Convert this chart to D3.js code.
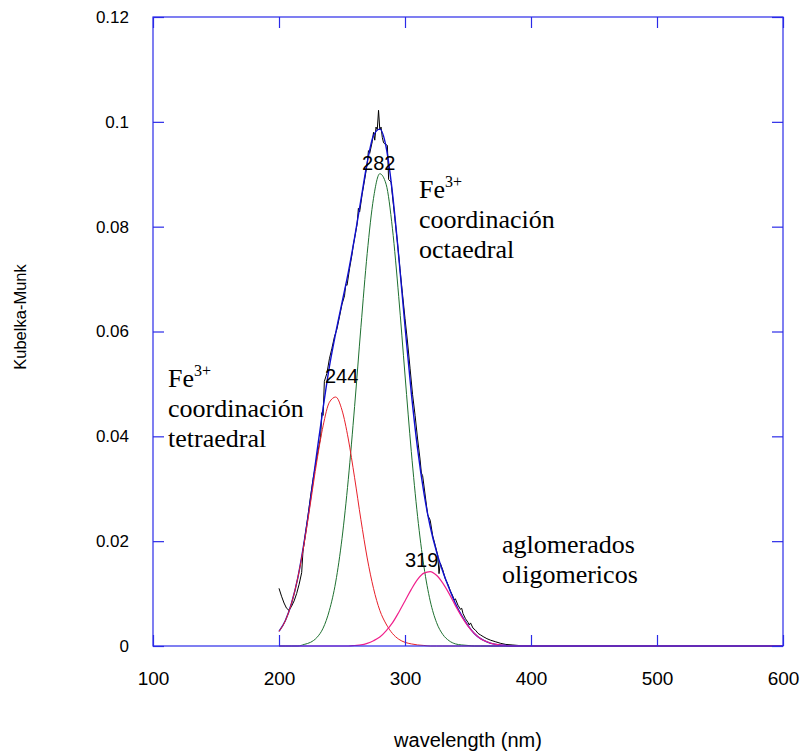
<!DOCTYPE html>
<html>
<head>
<meta charset="utf-8">
<script src="https://cdn.jsdelivr.net/npm/d3@7"></script>
<style>
  body { margin: 0; background: #fff; }
  svg { display: block; }
</style>
</head>
<body>
<div id="chart"></div>
<script>
// wavelength grid (nm) for the fitted curves
const fitWl = [200,205,210,215,220,225,230,235,240,245,250,255,260,265,270,275,280,285,290,295,300,
               305,310,315,320,325,330,335,340,345,350,355,360,365,370,375,380,385,390,400,500,600]
// Fe3+ tetraedral band (244 nm)
const red = [0.0028,0.0048,0.0082,0.0131,0.0196,0.0273,0.0352,0.0420,0.0465,0.0475,0.0450,0.0395,0.0321,0.0241,0.0168,0.0110,0.0068,0.0042,0.0024,0.0013,0.0007,
             0.0004,0.0002,0.0001,0,0,0,0,0,0,0,0,0,0,0,0,0,0,0,0,0,0]
// Fe3+ octaedral band (282 nm)
const green = [0,0,0,0,0.0003,0.0007,0.0016,0.0034,0.0068,0.0122,0.0205,0.0318,0.0457,0.0608,0.0749,0.0854,0.0901,0.0881,0.0797,0.0667,0.0517,
               0.0371,0.0247,0.0152,0.0086,0.0045,0.0022,0.0010,0.0004,0.0002,0.0001,0,0,0,0,0,0,0,0,0,0,0]
// aglomerados oligomericos (319 nm)
const pink = [0,0,0,0,0,0,0,0,0,0,0,0,0.0001,0.0002,0.0005,0.0010,0.0017,0.0029,0.0044,0.0064,0.0086,
              0.0108,0.0127,0.0139,0.0142,0.0135,0.0120,0.0100,0.0077,0.0056,0.0038,0.0024,0.0014,0.0008,0.0004,0.0002,0.0001,0,0,0,0,0]
// total fit
const blue = [0.0028,0.0048,0.0082,0.0131,0.0199,0.0280,0.0368,0.0454,0.0533,0.0597,0.0655,0.0713,0.0779,0.0851,0.0922,0.0974,0.0986,0.0952,0.0865,0.0744,0.0610,
              0.0483,0.0376,0.0292,0.0228,0.0180,0.0142,0.0110,0.0081,0.0058,0.0039,0.0024,0.0014,0.0008,0.0004,0.0002,0.0001,0,0,0,0,0]

// measured spectrum
const dataWl = [200,202,204,206,208,210,212,214,216,218,219,221,223,225,227,229,231,233,234,235,236,238,240,242,244,246,248,250,252,253,254,256,258,259,260,
                262,263,264,266,268,270,271,272,274,275,276,277,278,279,280,281,282,283,284,286,287,289,290,292,294,296,298,300,302,304,306,308,310,312,313,314,316,318,
                320,322,324,326,327,328,330,332,334,336,338,339,340,342,344,345,346,348,350,351,352,354,356,358,360,362,365,368,372,376,380,385,390,400,500,600]
const dataKM = [0.0110,0.0095,0.0082,0.0072,0.0068,0.0076,0.0086,0.0100,0.0118,0.0140,0.0180,0.0215,0.0248,0.0285,0.0318,0.0345,0.0372,0.0398,0.0445,0.0440,0.0505,0.0520,0.0548,0.0568,0.0590,0.0605,0.0628,0.0652,0.0668,0.0690,0.0688,0.0720,0.0748,0.0765,0.0778,
                0.0805,0.0835,0.0828,0.0862,0.0890,0.0920,0.0945,0.0940,0.0962,0.0980,0.0965,0.0990,0.0985,0.1022,0.0985,0.0990,0.0970,0.0960,0.0958,0.0955,0.0890,0.0885,0.0860,0.0815,0.0770,0.0720,0.0672,0.0625,0.0580,0.0530,0.0480,0.0440,0.0395,0.0355,0.0330,0.0325,0.0288,0.0250,
                0.0240,0.0210,0.0192,0.0173,0.0138,0.0158,0.0145,0.0128,0.0118,0.0105,0.0095,0.0088,0.0090,0.0078,0.0070,0.0072,0.0062,0.0052,0.0045,0.0040,0.0044,0.0034,0.0030,0.0024,0.0021,0.0018,0.0014,0.0011,0.0008,0.0005,0.0003,0.0002,0.0001,0,0,0]

const xTicks = [100,200,300,400,500,600]
const yTicks = [0,0.02,0.04,0.06,0.08,0.1,0.12]
const yTickLabels = ["0","0.02","0.04","0.06","0.08","0.1","0.12"]

// peak labels: text starts at wl, baseline at v
const peakLabels = ["244", "282", "319"]
const peakLabelWl = [236.5, 265.9, 300]
const peakLabelV = [0.0501, 0.0909, 0.0150]

width = 801
height = 753
margin = ({top: 17, right: 18, bottom: 107, left: 153})

x = d3.scaleLinear().domain([100, 600]).range([margin.left, width - margin.right])
y = d3.scaleLinear().domain([0, 0.12]).range([height - margin.bottom, margin.top])

const svg = d3.select("#chart").append("svg")
    .attr("width", width)
    .attr("height", height)
    .attr("font-family", "Arial, 'Liberation Sans', sans-serif")

const line = d3.line()
    .x(d => x(d[0]))
    .y(d => y(d[1]))
const smooth = d3.line()
    .x(d => x(d[0]))
    .y(d => y(d[1]))
    .curve(d3.curveMonotoneX)

const plot = svg.append("g").attr("fill", "none")

plot.append("path")
    .attr("d", line(d3.zip(dataWl, dataKM)))
    .attr("stroke", "#000").attr("stroke-width", 1)
plot.append("path")
    .attr("d", smooth(d3.zip(fitWl, blue)))
    .attr("stroke", "#1010d0").attr("stroke-width", 1.4)
plot.append("path")
    .attr("d", smooth(d3.zip(fitWl, green)))
    .attr("stroke", "#1e7030").attr("stroke-width", 1)
plot.append("path")
    .attr("d", smooth(d3.zip(fitWl, red)))
    .attr("stroke", "#e8202a").attr("stroke-width", 1)
plot.append("path")
    .attr("d", smooth(d3.zip(fitWl, pink)))
    .attr("stroke", "#f0208c").attr("stroke-width", 1.2)

// frame with inward ticks on all four sides
const axisColor = "#2a2ae8"
const x0 = x.range()[0], x1 = x.range()[1], y0 = y.range()[0], y1 = y.range()[1]
svg.append("rect")
    .attr("x", x0).attr("y", y1).attr("width", x1 - x0).attr("height", y0 - y1)
    .attr("fill", "none").attr("stroke", axisColor).attr("stroke-width", 1.2)

svg.append("g").attr("transform", `translate(0,${y0})`)
    .call(d3.axisBottom(x).tickValues(xTicks).tickSize(-11).tickPadding(26).tickFormat(d3.format("d")))
    .call(g => g.select(".domain").remove())
    .call(g => g.selectAll("line").attr("stroke", axisColor).attr("stroke-width", 1.2))
    .call(g => g.selectAll("text").attr("fill", "#000").style("font-size", "19px"))
svg.append("g").attr("transform", `translate(0,${y1})`)
    .call(d3.axisTop(x).tickValues(xTicks).tickSize(-11).tickFormat(""))
    .call(g => g.select(".domain").remove())
    .call(g => g.selectAll("line").attr("stroke", axisColor).attr("stroke-width", 1.2))
svg.append("g").attr("transform", `translate(${x0},0)`)
    .call(d3.axisLeft(y).tickValues(yTicks).tickSize(-11).tickPadding(24).tickFormat((d, i) => yTickLabels[i]))
    .call(g => g.select(".domain").remove())
    .call(g => g.selectAll("line").attr("stroke", axisColor).attr("stroke-width", 1.2))
    .call(g => g.selectAll("text").attr("fill", "#000").style("font-size", "17px"))
svg.append("g").attr("transform", `translate(${x1},0)`)
    .call(d3.axisRight(y).tickValues(yTicks).tickSize(-11).tickFormat(""))
    .call(g => g.select(".domain").remove())
    .call(g => g.selectAll("line").attr("stroke", axisColor).attr("stroke-width", 1.2))

// axis titles
svg.append("text")
    .attr("x", (x0 + x1) / 2).attr("y", 747)
    .attr("text-anchor", "middle")
    .style("font-size", "20px")
    .text("wavelength (nm)")
svg.append("text")
    .attr("transform", `translate(26,${317}) rotate(-90)`)
    .attr("text-anchor", "middle")
    .style("font-size", "16.5px")
    .text("Kubelka-Munk")

// peak positions
svg.append("g")
    .style("font-size", "20px")
    .selectAll("text")
    .data(peakLabels)
    .join("text")
      .attr("x", (d, i) => x(peakLabelWl[i]))
      .attr("y", (d, i) => y(peakLabelV[i]))
      .text(d => d)

// band annotations
function note(px, py, lines, fe) {
  const t = svg.append("text")
      .attr("x", px).attr("y", py)
      .attr("font-family", "'Liberation Serif', 'Times New Roman', 'DejaVu Serif', serif")
      .attr("font-size", 26)
  lines.forEach((s, i) => {
    const ts = t.append("tspan").attr("x", px).attr("y", py + i * 30)
    if (fe && i == 0) {
      ts.text("Fe")
      ts.append("tspan").attr("dy", -11).attr("font-size", 16).text("3+")
    } else ts.text(s)
  })
}
note(168, 387, ["Fe", "coordinación", "tetraedral"], true)
note(419, 198, ["Fe", "coordinación", "octaedral"], true)
note(502, 553, ["aglomerados", "oligomericos"], false)
</script>
</body>
</html>
